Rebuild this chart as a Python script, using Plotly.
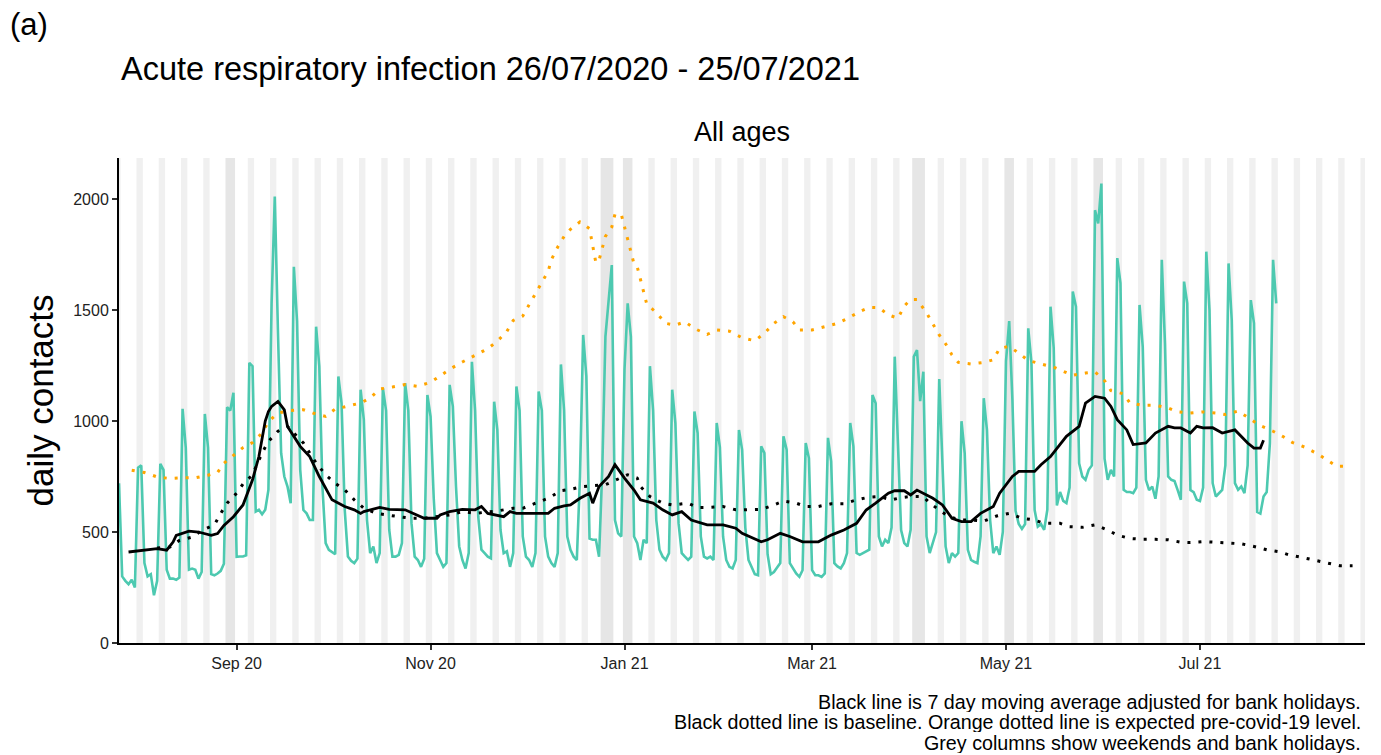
import pandas as pd
import plotly.graph_objects as go

# ---- data ----
start_date = "2020-07-26"

# daily contacts, one value per day from Sun 26 Jul 2020 to Sun 25 Jul 2021
daily_contacts = [
    720,
    300, 280, 265, 285, 250, 790, 800,
    360, 300, 310, 215, 280, 807, 780,
    330, 290, 290, 285, 295, 1055, 880,
    330, 335, 330, 290, 320, 1032, 880,
    310, 305, 313, 325, 357, 1062, 1047,
    1127, 388, 390, 390, 395, 1262, 1247,
    592, 600, 580, 600, 690, 1530, 2011,
    1400, 855, 750, 705, 630, 1695, 1450,
    780, 599, 584, 554, 554, 1425, 1247,
    700, 450, 420, 410, 400, 1201, 1081,
    600, 390, 370, 360, 380, 1141, 1006,
    554, 405, 435, 360, 405, 1148, 1047,
    509, 389, 389, 397, 450, 1171, 1047,
    540, 389, 374, 343, 380, 1117, 1020,
    650, 405, 374, 343, 360, 1163, 1066,
    705, 435, 374, 336, 405, 1267, 1047,
    569, 420, 405, 389, 381, 1087, 960,
    509, 405, 413, 343, 405, 1156, 1047,
    480, 389, 374, 343, 405, 1133, 1047,
    480, 389, 360, 343, 405, 1255, 1047,
    480, 420, 389, 374, 750, 1388, 1201,
    470, 465, 465, 389, 780, 1380, 1546,
    1703, 554, 494, 480, 1231, 1530, 1380,
    480, 450, 374, 465, 450, 1247, 1047,
    554, 420, 389, 374, 405, 1141, 991,
    540, 405, 389, 374, 389, 1043, 946,
    480, 389, 381, 389, 374, 991, 881,
    480, 374, 343, 336, 374, 960, 870,
    520, 374, 340, 310, 305, 886, 856,
    400, 310, 320, 340, 360, 931, 871,
    360, 336, 313, 298, 328, 901, 833,
    328, 305, 305, 298, 313, 924, 818,
    360, 345, 336, 360, 405, 991, 886,
    405, 397, 405, 413, 420, 1117, 1080,
    480, 435, 465, 450, 520, 1290, 900,
    509, 450, 435, 510, 1290, 1320, 1090,
    1222, 480, 405, 450, 500, 1189, 850,
    435, 360, 405, 389, 405, 999, 856,
    420, 374, 366, 360, 480, 1103, 960,
    554, 405, 435, 397, 500, 1270, 1450,
    1100, 596, 536, 514, 536, 1418, 1262,
    599, 524, 536, 510, 600, 1515, 1330,
    620, 680, 640, 630, 700, 1583, 1515,
    810, 750, 735, 780, 800, 1950, 1890,
    2070, 830, 735, 780, 750, 1734, 1622,
    690, 680, 680, 675, 700, 1523, 1335,
    735, 689, 705, 650, 750, 1726, 1350,
    750, 735, 730, 689, 645, 1628, 1530,
    689, 680, 645, 640, 700, 1763, 1500,
    720, 660, 675, 690, 800, 1710, 1455,
    720, 690, 705, 675, 800, 1545, 1440,
    590, 583, 660, 680, 900, 1726, 1530,
]

# 7 day moving average (days after start date, value)
ma_day = [3, 8, 12, 15, 17, 18, 22, 25, 29, 31, 33, 36, 39, 42, 44, 46, 47, 48, 50, 52,
          53, 57, 60, 63, 67, 71, 74, 76, 77, 82, 85, 90, 94, 96, 100, 101, 104, 108, 112, 114,
          116, 121, 123, 125, 135, 137, 140, 142, 145, 148, 149, 151, 154, 156, 159, 162, 164, 168, 171, 174,
          177, 180, 185, 190, 194, 196, 202, 204, 208, 211, 215, 220, 224, 228, 232, 235, 238, 242, 244, 247,
          249, 251, 256, 259, 262, 265, 268, 271, 275, 277, 281, 283, 288, 290, 293, 295, 298, 302, 304, 307,
          310, 312, 314, 317, 319, 323, 326, 330, 332, 334, 337, 339, 341, 344, 347, 351, 353, 355, 357, 359, 360]
ma_value = [410, 418, 425, 418, 455, 485, 504, 500, 485, 493, 530, 569, 622, 735, 840, 1000, 1043, 1066, 1088, 1050,
            975, 886, 840, 750, 645, 615, 600, 584, 592, 611, 602, 600, 577, 562, 562, 577, 592, 602, 600, 615,
            584, 569, 592, 584, 584, 607, 618, 622, 652, 675, 630, 705, 750, 803, 743, 689, 645, 630, 600, 577,
            592, 554, 532, 532, 517, 494, 456, 465, 494, 480, 456, 456, 486, 509, 539, 599, 630, 675, 686, 686,
            667, 689, 652, 622, 562, 547, 547, 584, 615, 675, 750, 773, 773, 803, 840, 878, 931, 976, 1081, 1111,
            1103, 1066, 1006, 960, 894, 901, 946, 976, 969, 969, 946, 976, 969, 970, 946, 960, 931, 901, 878, 878, 913]

# baseline (black dotted)
baseline_day = [12, 16, 19, 23, 26, 30, 32, 34, 37, 39, 42, 45, 47, 50, 53, 55, 58, 62, 65, 68,
                71, 74, 77, 81, 85, 88, 92, 96, 104, 108, 112, 119, 124, 127, 131, 135, 139, 142, 146, 153,
                160, 163, 164, 167, 171, 174, 179, 182, 186, 190, 194, 198, 202, 206, 209, 213, 216, 220, 224, 228,
                232, 236, 239, 243, 246, 249, 253, 255, 258, 261, 265, 268, 272, 276, 280, 284, 288, 291, 296, 299,
                303, 307, 311, 314, 318, 322, 326, 330, 334, 337, 341, 346, 349, 353, 357, 361, 365, 368, 372, 376,
                380, 384, 388]
baseline_value = [428, 432, 462, 477, 507, 532, 584, 630, 675, 716, 758, 856, 908, 954, 976, 946, 901, 811, 758, 720,
                  690, 645, 607, 584, 574, 569, 562, 562, 577, 592, 584, 595, 607, 607, 630, 652, 686, 692, 705, 713,
                  758, 743, 705, 660, 630, 622, 630, 611, 611, 615, 600, 600, 602, 622, 640, 630, 615, 615, 627, 627,
                  645, 657, 660, 645, 655, 660, 660, 630, 600, 569, 554, 554, 549, 572, 584, 562, 554, 539, 539, 524,
                  521, 532, 509, 486, 471, 467, 467, 465, 454, 453, 457, 453, 450, 447, 435, 420, 411, 397, 386, 374,
                  360, 348, 348]

# expected pre-covid-19 level (orange dotted)
expected_day = [4, 8, 12, 16, 20, 24, 28, 31, 33, 36, 39, 42, 45, 47, 50, 54, 58, 61, 65, 68,
                72, 76, 79, 82, 86, 90, 94, 98, 101, 104, 108, 112, 116, 119, 122, 124, 127, 129, 131, 133,
                135, 136, 138, 140, 142, 145, 148, 149, 150, 151, 152, 153, 155, 156, 158, 159, 160, 161, 162, 163,
                164, 165, 166, 169, 172, 175, 178, 181, 185, 188, 192, 196, 200, 203, 206, 209, 212, 214, 218, 222,
                226, 229, 233, 236, 239, 242, 245, 247, 249, 251, 252, 254, 256, 258, 260, 262, 264, 268, 272, 275,
                277, 280, 283, 286, 290, 294, 297, 300, 304, 307, 310, 312, 316, 318, 322, 326, 330, 333, 337, 341,
                345, 348, 352, 355, 359, 363, 366, 369, 373, 377, 380, 383, 387]
expected_value = [778, 768, 748, 741, 744, 744, 756, 768, 810, 846, 880, 903, 946, 998, 1036, 1047, 1051, 1036, 1021, 1054,
                  1069, 1081, 1104, 1144, 1153, 1164, 1156, 1175, 1203, 1233, 1266, 1296, 1326, 1360, 1404, 1453, 1473, 1524, 1574, 1622,
                  1675, 1727, 1784, 1832, 1864, 1897, 1867, 1790, 1713, 1725, 1777, 1832, 1874, 1931, 1931, 1874, 1817, 1762, 1707, 1695,
                  1638, 1580, 1527, 1488, 1440, 1432, 1447, 1417, 1390, 1410, 1405, 1375, 1362, 1395, 1440, 1470, 1447, 1410, 1410, 1425,
                  1440, 1461, 1493, 1512, 1511, 1478, 1463, 1518, 1548, 1548, 1526, 1488, 1437, 1388, 1348, 1298, 1264, 1257, 1264, 1276,
                  1328, 1336, 1306, 1273, 1257, 1243, 1224, 1206, 1216, 1221, 1182, 1137, 1122, 1081, 1071, 1071, 1059, 1041, 1036, 1041,
                  1036, 1029, 1045, 1018, 979, 954, 931, 904, 882, 852, 823, 796, 796]

bank_holidays = ["2020-08-31", "2020-12-25", "2020-12-28", "2021-01-01",
                 "2021-04-02", "2021-04-05", "2021-05-03", "2021-05-31"]

tick_dates = ["2020-09-01", "2020-11-01", "2021-01-01", "2021-03-01", "2021-05-01", "2021-07-01"]
tick_labels = ["Sep 20", "Nov 20", "Jan 21", "Mar 21", "May 21", "Jul 21"]

caption_lines = [
    "Black line is 7 day moving average adjusted for bank holidays.",
    "Black dotted line is baseline. Orange dotted line is expected pre-covid-19 level.",
    "Grey columns show weekends and bank holidays.",
]

# ---- build ----
t0 = pd.Timestamp(start_date)
daily_dates = pd.date_range(t0, periods=len(daily_contacts), freq="D")
ma_dates = [t0 + pd.Timedelta(days=d) for d in ma_day]
baseline_dates = [t0 + pd.Timedelta(days=d) for d in baseline_day]
expected_dates = [t0 + pd.Timedelta(days=d) for d in expected_day]

x_start = t0
x_end = pd.Timestamp("2021-08-21 22:00")

FONT = "Liberation Sans, Arial, sans-serif"

# grey columns: weekends and bank holidays
holidays = set(pd.to_datetime(bank_holidays))
grey_days = [d for d in pd.date_range("2020-07-24", "2021-08-23", freq="D")
             if d.weekday() >= 5 or d in holidays]
runs = []
for d in grey_days:
    if runs and (d - runs[-1][-1]).days == 1:
        runs[-1].append(d)
    else:
        runs.append([d])

shapes = []
for run in runs:
    dark = any(d in holidays for d in run)
    shapes.append(dict(
        type="rect", xref="x", yref="paper",
        x0=run[0] - pd.Timedelta(hours=12), x1=run[-1] + pd.Timedelta(hours=12),
        y0=0, y1=1, fillcolor="#e6e6e6" if dark else "#f0f0f0",
        line=dict(width=0), layer="below"))

fig = go.Figure()

fig.add_trace(go.Scatter(x=daily_dates, y=daily_contacts, mode="lines",
                         line=dict(color="#4dc9b0", width=2.6), name="daily"))
fig.add_trace(go.Scatter(x=expected_dates, y=expected_value, mode="lines",
                         line=dict(color="#ffa500", width=3, dash="3px,8px"), name="expected"))
fig.add_trace(go.Scatter(x=baseline_dates, y=baseline_value, mode="lines",
                         line=dict(color="black", width=3, dash="3px,8px"), name="baseline"))
fig.add_trace(go.Scatter(x=ma_dates, y=ma_value, mode="lines",
                         line=dict(color="black", width=2.8), name="7 day average"))

annotations = [
    dict(text="(a)", x=-0.0891, y=1.276, xanchor="left", yanchor="middle",
         font=dict(size=31, color="black")),
    dict(text="Acute respiratory infection 26/07/2020 - 25/07/2021", x=0, y=1.1835,
         xanchor="left", yanchor="middle", font=dict(size=32.5, color="black")),
    dict(text="All ages", x=0.5, y=1.0536, xanchor="center", yanchor="middle",
         font=dict(size=27, color="black")),
    dict(text="daily contacts", x=-0.0634, y=0.5, textangle=-90, xanchor="center",
         yanchor="middle", font=dict(size=35, color="black")),
]
# caption lines sit tightly stacked under the plot, right aligned
for line, ypos in zip(caption_lines, [-0.1216, -0.1629, -0.2062]):
    annotations.append(dict(text=line, x=0.9984, y=ypos, xanchor="right", yanchor="middle",
                            height=20, valign="middle", font=dict(size=19.7, color="black")))
for a in annotations:
    a.update(xref="paper", yref="paper", showarrow=False)

# the page body has an 8px margin, so the figure is 8px smaller and the margins shifted
fig.update_layout(
    width=1373, height=747,
    margin=dict(l=111, r=16, t=150, b=112),
    paper_bgcolor="white", plot_bgcolor="white",
    font=dict(family=FONT, color="black"),
    showlegend=False,
    shapes=shapes,
    annotations=annotations,
)
fig.update_xaxes(range=[x_start, x_end], tickvals=pd.to_datetime(tick_dates), ticktext=tick_labels,
                 showgrid=False, zeroline=False, showline=True, linecolor="black", linewidth=2,
                 ticks="outside", ticklen=5, tickwidth=1.5, tickcolor="#333333",
                 tickfont=dict(size=16, color="#222222"))
fig.update_yaxes(range=[0, 2185], tickvals=[0, 500, 1000, 1500, 2000],
                 showgrid=False, zeroline=False, showline=True, linecolor="black", linewidth=2,
                 ticks="outside", ticklen=5, tickwidth=1.5, tickcolor="#333333",
                 tickfont=dict(size=16, color="#222222"))

fig.write_html("out.html")
